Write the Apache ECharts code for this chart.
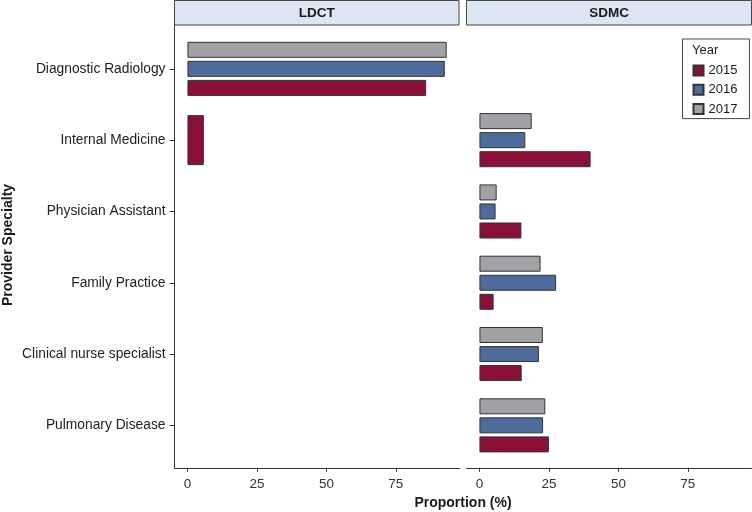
<!DOCTYPE html>
<html>
<head>
<meta charset="utf-8">
<script src="https://cdn.jsdelivr.net/npm/echarts@6/dist/echarts.min.js"></script>
<style>html,body{margin:0;padding:0;background:#fff;}#chart{width:752px;height:512px;}</style>
</head>
<body>
<div id="chart"></div>
<script>
// ---- Data (top-to-bottom order of categories) ----
const categories = ['Diagnostic Radiology', 'Internal Medicine', 'Physician Assistant', 'Family Practice', 'Clinical nurse specialist', 'Pulmonary Disease'];
const years = ['2015', '2016', '2017'];
const panels = ['LDCT', 'SDMC'];
const xTicks = [0, 25, 50, 75];
const ldct2015 = [85.9, 5.9, null, null, null, null];
const ldct2016 = [92.6, null, null, null, null, null];
const ldct2017 = [93.3, null, null, null, null, null];
const sdmc2015 = [null, 40.0, 15.1, 5.1, 15.2, 25.0];
const sdmc2016 = [null, 16.5, 5.8, 27.6, 21.4, 22.9];
const sdmc2017 = [null, 18.8, 6.2, 22.0, 22.8, 23.7];

const panelData = [[ldct2015, ldct2016, ldct2017], [sdmc2015, sdmc2016, sdmc2017]];
const colors = ['#8A1038', '#4D6C9B', '#A2A2A6'];
const FONT = '"Liberation Sans", Arial, Helvetica, sans-serif';

const cats = categories.slice().reverse();
const rev = a => a.slice().reverse();

const gridTop = 33.2, gridH = 427.8, panelW = 285;
const grids = [
  {left: 174.5, top: gridTop, width: panelW, height: gridH},
  {left: 466.5, top: gridTop, width: panelW, height: gridH}
];

const xAxes = grids.map((g, i) => ({
  type: 'value', gridIndex: i, min: -4.66, max: 97.9, offset: 6.8,
  splitLine: {show: false},
  axisLine: {show: true, onZero: false, lineStyle: {color: '#333', width: 1}},
  axisTick: {show: true, length: 4, lineStyle: {color: '#333'}, customValues: xTicks},
  axisLabel: {show: true, margin: 9, fontSize: 13.5, color: '#333', fontFamily: FONT, customValues: xTicks}
}));

const yAxes = [];
grids.forEach((g, i) => {
  yAxes.push({
    type: 'category', gridIndex: i, data: cats,
    axisLine: {show: false, onZero: false},
    axisTick: {show: i === 0, alignWithLabel: true, length: 5, lineStyle: {color: '#333'}},
    axisLabel: {show: i === 0, margin: 9, fontSize: 13.8, color: '#222', fontFamily: FONT},
    splitLine: {show: false}
  });
});
grids.forEach((g, i) => {
  yAxes.push({type: 'category', gridIndex: i, data: cats, show: false, axisLine: {onZero: false}});
});

const series = [];
panelData.forEach((arrs, p) => {
  const counts = categories.map((c, k) => arrs.filter(a => a[k] != null).length);
  // later years first so that 2017 sits on top within each group
  for (let y = arrs.length - 1; y >= 0; y--) {
    const arr = arrs[y];
    const grouped = arr.map((v, k) => counts[k] > 1 ? v : null);
    const solo = arr.map((v, k) => counts[k] === 1 ? v : null);
    const base = {
      type: 'bar', name: years[y], xAxisIndex: p,
      itemStyle: {color: colors[y], borderColor: '#333', borderWidth: 1},
      emphasis: {disabled: true}
    };
    series.push(Object.assign({}, base, {yAxisIndex: p, data: rev(grouped), barWidth: 16, barGap: '19%'}));
    if (solo.some(v => v != null)) {
      series.push(Object.assign({}, base, {yAxisIndex: 2 + p, data: rev(solo), barWidth: 50}));
    }
  }
});

const graphics = [
  {type: 'line', shape: {x1: 174.5, y1: 25, x2: 174.5, y2: 468}, style: {stroke: '#333', lineWidth: 1}},
  {type: 'rect', shape: {x: 174.5, y: 0.5, width: 284.5, height: 24.5}, style: {fill: '#DCE6F2', stroke: '#444', lineWidth: 1}},
  {type: 'rect', shape: {x: 466.5, y: 0.5, width: 285, height: 24.5}, style: {fill: '#DCE6F2', stroke: '#444', lineWidth: 1}},
  {type: 'text', x: 316.8, y: 13, style: {text: panels[0], font: 'bold 13.5px ' + FONT, fill: '#1a1a1a', align: 'center', verticalAlign: 'middle'}},
  {type: 'text', x: 609, y: 13, style: {text: panels[1], font: 'bold 13.5px ' + FONT, fill: '#1a1a1a', align: 'center', verticalAlign: 'middle'}},
  {type: 'text', x: 463, y: 503, style: {text: 'Proportion (%)', font: 'bold 14px ' + FONT, fill: '#1a1a1a', align: 'center', verticalAlign: 'middle'}},
  {type: 'text', x: 8, y: 245, rotation: Math.PI / 2, style: {text: 'Provider Specialty', font: 'bold 14px ' + FONT, fill: '#1a1a1a', align: 'center', verticalAlign: 'middle'}},
  {type: 'text', x: 692, y: 50, z: 100, style: {text: 'Year', font: '13px ' + FONT, fill: '#222', align: 'left', verticalAlign: 'middle'}}
];

const chart = echarts.init(document.getElementById('chart'), null, {renderer: 'canvas'});
chart.setOption({
  animation: false,
  backgroundColor: '#fff',
  grid: grids,
  xAxis: xAxes,
  yAxis: yAxes,
  legend: {
    data: years, orient: 'vertical', left: 682.5, top: 39,
    padding: [25, 12, 3, 10], itemGap: 6.3, itemWidth: 10, itemHeight: 10,
    icon: 'rect', borderColor: '#444', borderWidth: 1, backgroundColor: '#fff',
    textStyle: {fontSize: 13, color: '#222', fontFamily: FONT}, selectedMode: false
  },
  graphic: graphics,
  series: series
});
</script>
</body>
</html>
